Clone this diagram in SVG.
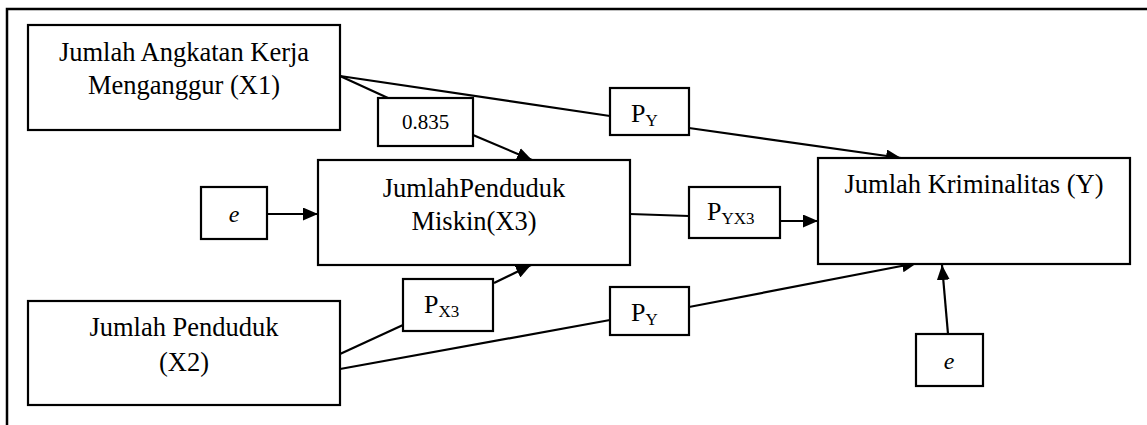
<svg xmlns="http://www.w3.org/2000/svg" width="1147" height="425" viewBox="0 0 1147 425">
  <style>
    .box { fill: #ffffff; stroke: #000000; stroke-width: 2.2; }
    .frame { fill: none; stroke: #000000; stroke-width: 2.5; }
    .edge { fill: none; stroke: #000000; stroke-width: 2.2; }
    .arrow { marker-end: url(#head); }
    .t { font-family: "Liberation Serif", "Times New Roman", serif; fill: #000000; text-anchor: middle; }
    .main { font-size: 26.5px; }
    .coef { font-size: 21px; }
    .p { font-size: 26px; text-anchor: start; }
    .sub { font-size: 17px; }
    .err { font-size: 24px; font-style: italic; }
  </style>
  <defs>
    <marker id="head" markerUnits="userSpaceOnUse" markerWidth="15" markerHeight="13" refX="15" refY="6.5" orient="auto">
      <path d="M0,0 L15,6.5 L0,13 z" fill="#000000"/>
    </marker>
  </defs>

  <!-- page frame -->
  <path class="frame" d="M7,425 V9 H1147"/>

  <!-- connectors -->
  <g id="connectors">
    <line class="edge" x1="340" y1="76" x2="610" y2="116"/>
    <line class="edge arrow" x1="689" y1="128" x2="901" y2="158"/>
    <line class="edge" x1="340" y1="76" x2="388" y2="98"/>
    <line class="edge arrow" x1="473" y1="135" x2="532" y2="160"/>
    <line class="edge arrow" x1="267" y1="214" x2="318" y2="214"/>
    <line class="edge" x1="630" y1="214" x2="689" y2="216"/>
    <line class="edge arrow" x1="780" y1="221" x2="818" y2="221"/>
    <line class="edge" x1="340" y1="354" x2="403" y2="325"/>
    <line class="edge arrow" x1="494" y1="283" x2="531" y2="265"/>
    <line class="edge" x1="340" y1="369" x2="610" y2="320"/>
    <line class="edge arrow" x1="689" y1="307" x2="917" y2="263"/>
    <line class="edge arrow" x1="948" y1="334" x2="942" y2="265"/>
  </g>

  <!-- variables -->
  <g id="x1">
    <rect class="box" x="28" y="25" width="312" height="105"/>
    <text class="t main" x="184" y="61">Jumlah Angkatan Kerja</text>
    <text class="t main" x="184" y="94">Menganggur (X1)</text>
  </g>
  <g id="x2">
    <rect class="box" x="28" y="301" width="312" height="104"/>
    <text class="t main" x="184" y="336">Jumlah Penduduk</text>
    <text class="t main" x="184" y="371">(X2)</text>
  </g>
  <g id="x3">
    <rect class="box" x="318" y="160" width="312" height="105"/>
    <text class="t main" x="474" y="197">JumlahPenduduk</text>
    <text class="t main" x="474" y="230">Miskin(X3)</text>
  </g>
  <g id="y">
    <rect class="box" x="818" y="158" width="312" height="106"/>
    <text class="t main" x="974" y="193">Jumlah Kriminalitas (Y)</text>
  </g>

  <!-- error terms -->
  <g id="e3">
    <rect class="box" x="201" y="187" width="66" height="52"/>
    <text class="t err" x="234" y="222">e</text>
  </g>
  <g id="ey">
    <rect class="box" x="916" y="334" width="67" height="52"/>
    <text class="t err" x="949" y="369">e</text>
  </g>

  <!-- path coefficients -->
  <g id="c-x1-x3">
    <rect class="box" x="378" y="98" width="95" height="48"/>
    <text class="t coef" x="425.5" y="129">0.835</text>
  </g>
  <g id="c-x1-y">
    <rect class="box" x="610" y="88" width="79" height="47"/>
    <text class="t p" x="631" y="122">P<tspan class="sub" dy="4">Y</tspan></text>
  </g>
  <g id="c-x3-y">
    <rect class="box" x="689" y="187" width="91" height="51"/>
    <text class="t p" x="707" y="220">P<tspan class="sub" dy="4">YX3</tspan></text>
  </g>
  <g id="c-x2-x3">
    <rect class="box" x="403" y="279" width="90" height="52"/>
    <text class="t p" x="424" y="313">P<tspan class="sub" dy="4">X3</tspan></text>
  </g>
  <g id="c-x2-y">
    <rect class="box" x="610" y="287" width="79" height="48"/>
    <text class="t p" x="631" y="321">P<tspan class="sub" dy="4">Y</tspan></text>
  </g>
</svg>
